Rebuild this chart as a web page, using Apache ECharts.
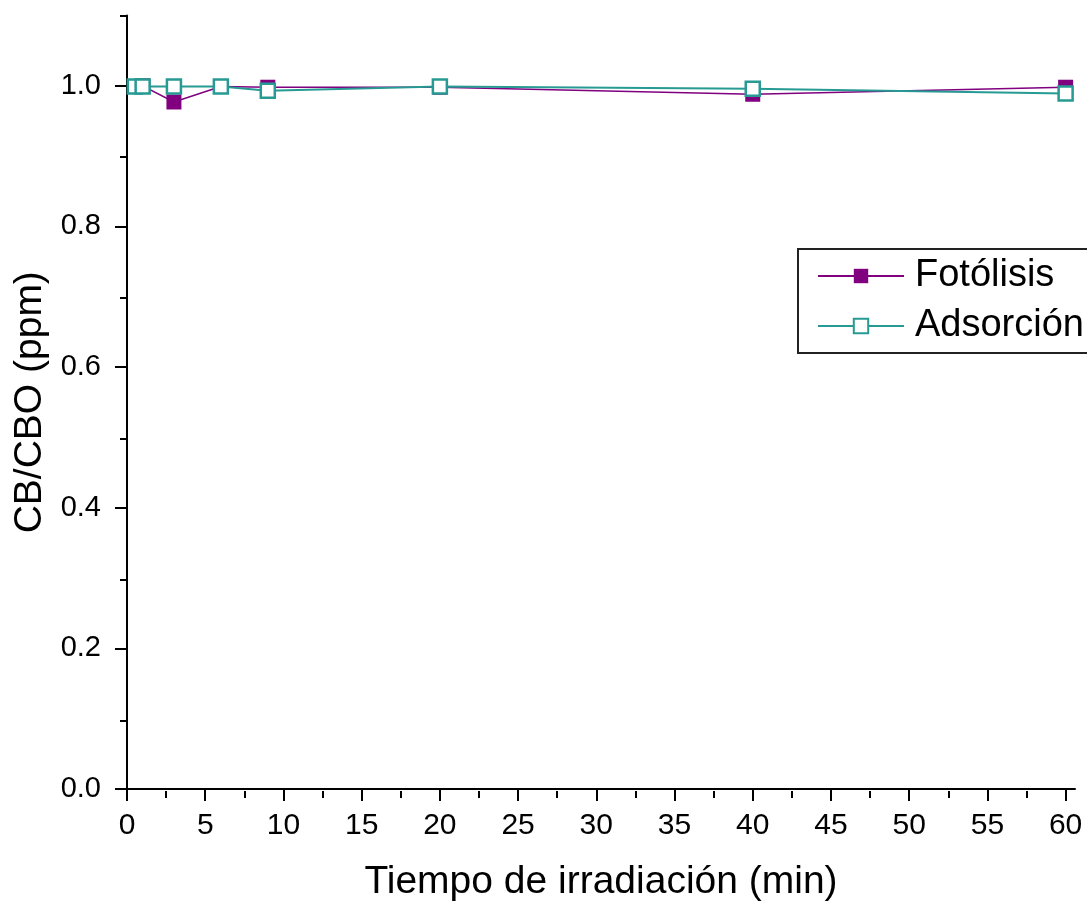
<!DOCTYPE html>
<html>
<head>
<meta charset="utf-8">
<script src="https://cdn.jsdelivr.net/npm/echarts@6/dist/echarts.min.js"></script>
<style>
html,body{margin:0;padding:0;background:#fff;}
#chart{width:1087px;height:907px;}
</style>
</head>
<body>
<div id="chart"></div>
<script>
// ---- data ----
const fotolisisX = [1, 3, 6, 9, 20, 40, 60];
const fotolisisY = [1.000, 0.977, 0.999, 0.998, 0.998, 0.988, 0.998];
const adsorcionX = [0.5, 1, 3, 6, 9, 20, 40, 60];
const adsorcionY = [0.999, 0.999, 0.999, 0.999, 0.993, 0.999, 0.996, 0.989];
const xTicks = [0, 5, 10, 15, 20, 25, 30, 35, 40, 45, 50, 55, 60];
const xMinorTicks = [2.5, 7.5, 12.5, 17.5, 22.5, 27.5, 32.5, 37.5, 42.5, 47.5, 52.5, 57.5];
const yTicks = [0, 0.2, 0.4, 0.6, 0.8, 1.0];
const yMinorTicks = [0.1, 0.3, 0.5, 0.7, 0.9, 1.1];
const seriesNames = ['Fotólisis', 'Adsorción'];
const xTitle = 'Tiempo de irradiación (min)';
const yTitle = 'CB/CBO (ppm)';

const FONT = "'Liberation Sans', Arial, sans-serif";
const PURPLE = '#800080';
const TEAL = '#279a93';
const zip = (xs, ys) => xs.map((x, i) => [x, ys[i]]);

const chart = echarts.init(document.getElementById('chart'), null, {renderer: 'canvas'});
const gridPos = {left: 127, top: 15.5, right: 12, bottom: 116};
const axisLineStyle = {color: '#000', width: 2};

chart.setOption({
  animation: false,
  backgroundColor: '#fff',
  grid: [
    Object.assign({containLabel: false}, gridPos),
    Object.assign({containLabel: false}, gridPos)
  ],
  xAxis: [{
    type: 'value', gridIndex: 0, min: 0, max: 60.6, interval: 5,
    name: xTitle, nameLocation: 'middle', nameGap: 74,
    nameTextStyle: {fontFamily: FONT, fontSize: 39, color: '#000'},
    axisLine: {show: true, onZero: false, lineStyle: axisLineStyle},
    axisTick: {show: true, inside: false, length: 12, customValues: xTicks, lineStyle: axisLineStyle},
    axisLabel: {show: true, customValues: xTicks, margin: 22, fontFamily: FONT, fontSize: 30, color: '#000',
      formatter: v => String(v)},
    splitLine: {show: false}
  }, {
    type: 'value', gridIndex: 1, min: 0, max: 60.6, interval: 2.5,
    axisLine: {show: false},
    axisTick: {show: true, inside: false, length: 7, customValues: xMinorTicks, lineStyle: axisLineStyle},
    axisLabel: {show: false},
    splitLine: {show: false}
  }],
  yAxis: [{
    type: 'value', gridIndex: 0, min: 0, max: 1.1, interval: 0.1,
    name: yTitle, nameLocation: 'middle', nameGap: 76,
    nameTextStyle: {fontFamily: FONT, fontSize: 39, color: '#000'},
    axisLine: {show: true, onZero: false, lineStyle: axisLineStyle},
    axisTick: {show: true, inside: false, length: 12, customValues: yTicks, lineStyle: axisLineStyle},
    axisLabel: {show: true, customValues: yTicks, margin: 26, fontFamily: FONT, fontSize: 29, color: '#000',
      formatter: v => v.toFixed(1)},
    splitLine: {show: false}
  }, {
    type: 'value', gridIndex: 1, min: 0, max: 1.1, interval: 0.1,
    axisLine: {show: false},
    axisTick: {show: true, inside: false, length: 7, customValues: yMinorTicks, lineStyle: axisLineStyle},
    axisLabel: {show: false},
    splitLine: {show: false}
  }],
  legend: {
    show: true,
    orient: 'vertical',
    left: 798, top: 249,
    padding: [8, 10, 8, 19],
    itemWidth: 86, itemHeight: 18, itemGap: 12,
    borderColor: '#222', borderWidth: 2,
    backgroundColor: '#fff',
    textStyle: {fontFamily: FONT, fontSize: 38, color: '#000', padding: [0, 0, 0, 6]},
    data: seriesNames
  },
  series: [{
    name: seriesNames[0], type: 'line', xAxisIndex: 0, yAxisIndex: 0,
    data: zip(fotolisisX, fotolisisY),
    symbol: 'rect', symbolSize: 15, showAllSymbol: true,
    lineStyle: {color: PURPLE, width: 1.5},
    itemStyle: {color: PURPLE, borderColor: PURPLE, borderWidth: 0},
    emphasis: {disabled: true}, z: 2
  }, {
    name: seriesNames[1], type: 'line', xAxisIndex: 0, yAxisIndex: 0,
    data: zip(adsorcionX, adsorcionY),
    symbol: 'rect', symbolSize: 14, showAllSymbol: true,
    lineStyle: {color: TEAL, width: 2},
    itemStyle: {color: '#fff', borderColor: TEAL, borderWidth: 2.5},
    emphasis: {disabled: true}, z: 3
  }]
});
</script>
</body>
</html>
